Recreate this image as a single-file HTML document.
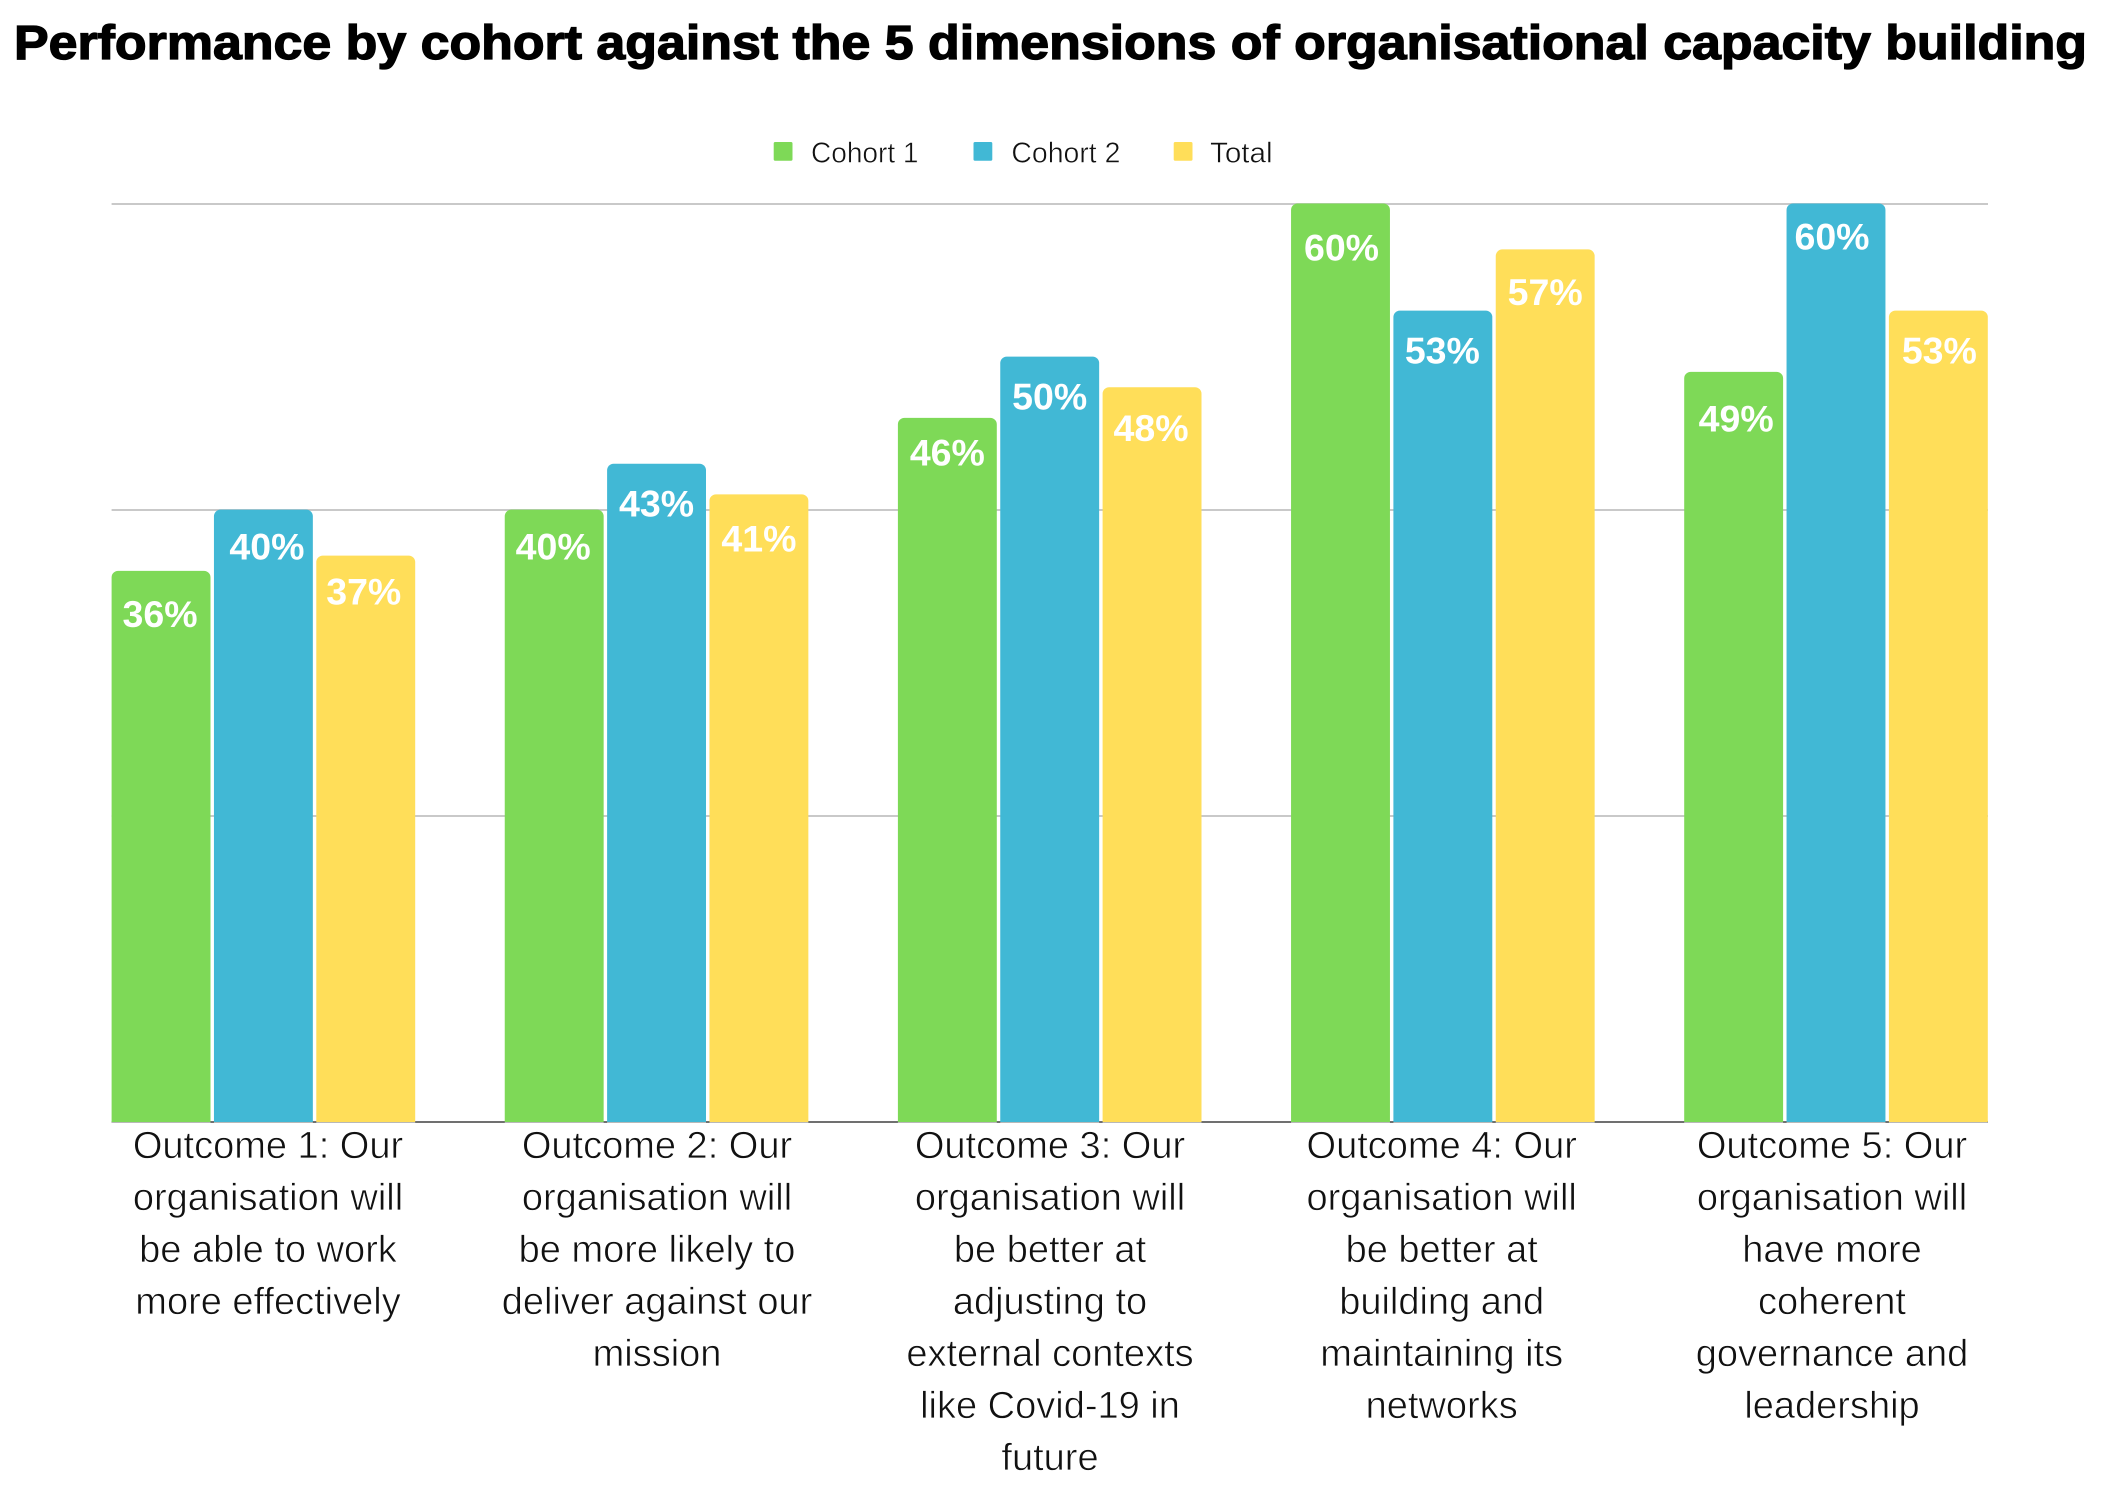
<!DOCTYPE html>
<html lang="en">
<head>
<meta charset="utf-8">
<title>Performance by cohort</title>
<style>
  html, body { margin: 0; padding: 0; background: #fff; }
  svg { display: block; font-family: "Liberation Sans", sans-serif; }
</style>
</head>
<body>
<svg id="chart" xmlns="http://www.w3.org/2000/svg" width="2106" height="1489" viewBox="0 0 2106 1489">
  <rect width="2106" height="1489" fill="#ffffff"/>
  <text x="14" y="59" font-size="48" font-weight="700" fill="#000" stroke="#000" stroke-width="1.3" textLength="2073" lengthAdjust="spacingAndGlyphs">Performance by cohort against the 5 dimensions of organisational capacity building</text>
  <g>
    <g>
      <rect x="773.7" y="142" width="18.8" height="18.8" rx="1.5" fill="#7ed957"/>
      <text x="811" y="162.7" font-size="28.6" fill="#111" stroke="#fff" stroke-width="0.5" textLength="107.5" lengthAdjust="spacingAndGlyphs">Cohort 1</text>
    </g>
    <g>
      <rect x="973.5" y="142" width="18.8" height="18.8" rx="1.5" fill="#41b8d5"/>
      <text x="1011.4" y="162.7" font-size="28.6" fill="#111" stroke="#fff" stroke-width="0.5" textLength="109" lengthAdjust="spacingAndGlyphs">Cohort 2</text>
    </g>
    <g>
      <rect x="1173.7" y="142" width="18.8" height="18.8" rx="1.5" fill="#ffde59"/>
      <text x="1210" y="162.7" font-size="28.6" fill="#111" stroke="#fff" stroke-width="0.5" textLength="62.6" lengthAdjust="spacingAndGlyphs">Total</text>
    </g>
  </g>
  <g id="grid"></g>
  <g id="bars"></g>
  <g id="value-labels"></g>
  <g id="category-labels"></g>
</svg>
<script>
var categories = [
  ["Outcome 1: Our", "organisation will", "be able to work", "more effectively"],
  ["Outcome 2: Our", "organisation will", "be more likely to", "deliver against our", "mission"],
  ["Outcome 3: Our", "organisation will", "be better at", "adjusting to", "external contexts", "like Covid-19 in", "future"],
  ["Outcome 4: Our", "organisation will", "be better at", "building and", "maintaining its", "networks"],
  ["Outcome 5: Our", "organisation will", "have more", "coherent", "governance and", "leadership"]
];
var cohort1 = [36, 40, 46, 60, 49];
var cohort2 = [40, 43, 50, 53, 60];
var total = [37, 41, 48, 57, 53];
var yTicks = [0, 20, 40, 60];

(function () {
  var NS = "http://www.w3.org/2000/svg";
  var seriesList = [
    { key: "cohort-1", values: cohort1, color: "#7ed957" },
    { key: "cohort-2", values: cohort2, color: "#41b8d5" },
    { key: "total", values: total, color: "#ffde59" }
  ];

  // Plot geometry and axis functions
  var plotLeft = 111.6, plotRight = 1988, plotTop = 203.5, plotBottom = 1122;
  var yMax = 60, groupStep = 393.15, barStep = 102.35, barWidth = 98.9, radius = 6.5;
  function yScale(v) { return plotBottom - (v / yMax) * (plotBottom - plotTop); }
  function xScale(groupIndex, seriesIndex) { return plotLeft + groupIndex * groupStep + seriesIndex * barStep; }

  // Hand-placement offsets (layout only)
  var labelNudge = [0, -2, 0, 0.7, 0];
  function labelCenter(groupIndex) { return 268 + groupIndex * 391 + labelNudge[groupIndex]; }
  var baseDy = 53;
  var nudgeY = [[3, -3, -4], [-3, 0, 4], [-5.5, 0, 1], [4, 0, 2.5], [6.5, -7, 0]];
  var nudgeX = [[-1, 3.5, -2], [-1, 0, 0], [0, 0, -1], [1, -0.5, 0], [2.5, -4, 1]];

  function make(tag, attrs, parent) {
    var el = document.createElementNS(NS, tag);
    Object.keys(attrs).forEach(function (k) { el.setAttribute(k, attrs[k]); });
    parent.appendChild(el);
    return el;
  }

  var grid = document.getElementById("grid");
  
  
  yTicks.forEach(function (t) {
    var isBase = t === 0;
    var y = isBase ? 1122 : plotBottom - (t / yMax) * (plotBottom - 204);
    var line = make("line", {
      x1: plotLeft, x2: plotRight, y1: y, y2: y,
      stroke: isBase ? "#707070" : "#c9c9c9", "stroke-width": 2
    }, grid);
    
    
  });

  var barsG = document.getElementById("bars");
  
  
  var valuesG = document.getElementById("value-labels");
  
  

  seriesList.forEach(function (s, si) {
    s.values.forEach(function (v, gi) {
      var x = xScale(gi, si), top = yScale(v), w = barWidth, r = radius;
      var d = "M" + x + " " + plotBottom + "V" + (top + r) +
        "A" + r + " " + r + " 0 0 1 " + (x + r) + " " + top +
        "H" + (x + w - r) +
        "A" + r + " " + r + " 0 0 1 " + (x + w) + " " + (top + r) +
        "V" + plotBottom + "Z";
      var bar = make("path", { d: d, fill: s.color }, barsG);
      
      

      var foot = make("rect", { x: x, y: plotBottom, width: w, height: 1, fill: "#b8b8b8" }, barsG);
      
      

      var label = make("text", {
        x: x + w / 2 + nudgeX[gi][si], y: top + baseDy + nudgeY[gi][si],
        "text-anchor": "middle", "font-size": 37.5, "font-weight": 700, fill: "#ffffff"
      }, valuesG);
      label.textContent = v + "%";
      
      
    });
  });

  var catG = document.getElementById("category-labels");
  
  
  categories.forEach(function (lines, gi) {
    var t = make("text", {
      "text-anchor": "middle", "font-size": 38, fill: "#111", stroke: "#fff", "stroke-width": 0.65
    }, catG);
    
    
    lines.forEach(function (line, li) {
      var span = make("tspan", { x: labelCenter(gi), y: 1158 + li * 52 }, t);
      span.textContent = line;
    });
  });
})();
</script>
</body>
</html>
